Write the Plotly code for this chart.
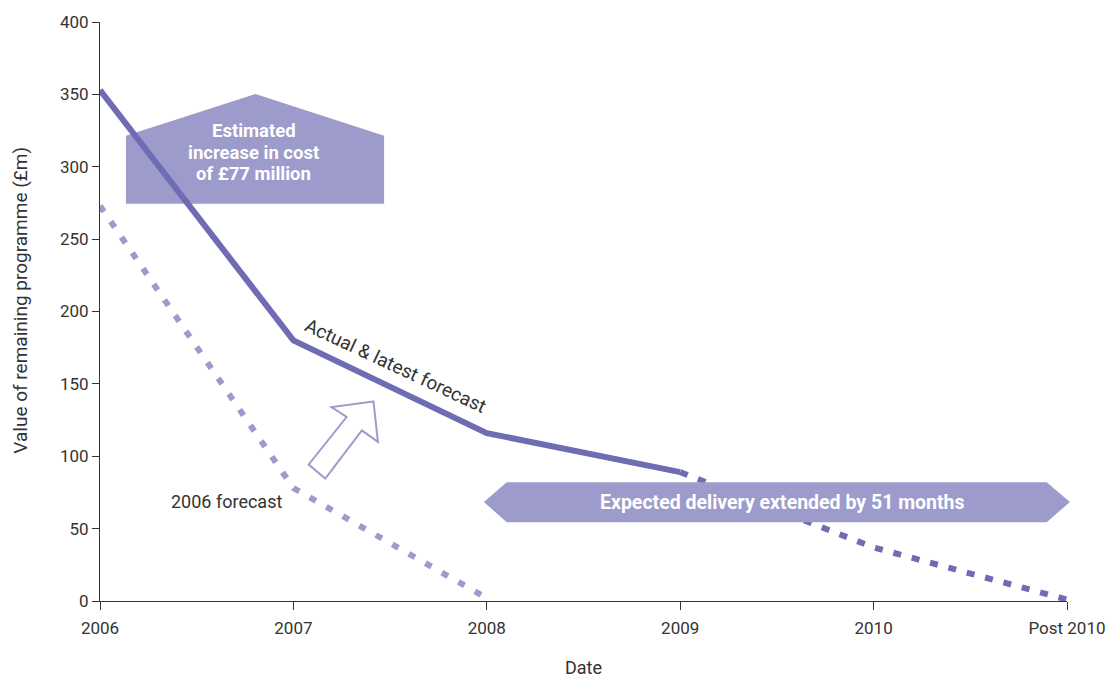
import plotly.graph_objects as go

# Category labels on the date axis
dates = ["2006", "2007", "2008", "2009", "2010", "Post 2010"]
x_idx = list(range(len(dates)))

# Value of remaining programme (£m)
actual = [353, 180, 116, 89]          # 2006-2009 actual
latest_forecast = [89, 37, 1]        # 2009 -> Post 2010 projection
forecast_2006 = [273, 78, 2]         # 2006 forecast, 2006-2008

DARK = "#6f6cb3"
LIGHT = "#9c9bcc"
TEXT = "#333333"
FONT = "Roboto"

fig = go.Figure()

fig.add_trace(go.Scatter(
    x=x_idx[:3], y=forecast_2006, mode="lines",
    line=dict(color=LIGHT, width=6, dash="7px,12px"),
    hoverinfo="skip", showlegend=False,
))
fig.add_trace(go.Scatter(
    x=x_idx[3:], y=latest_forecast, mode="lines",
    line=dict(color=DARK, width=6, dash="8px,11px"),
    hoverinfo="skip", showlegend=False,
))
fig.add_trace(go.Scatter(
    x=x_idx[:4], y=actual, mode="lines",
    line=dict(color=DARK, width=6),
    hoverinfo="skip", showlegend=False,
))

# "house" callout behind the actual line
fig.add_shape(
    type="path", xref="x", yref="y", layer="below",
    path="M 0.134,274.5 L 0.134,321.4 L 0.804,350.3 L 1.469,321.4 L 1.469,274.5 Z",
    fillcolor=LIGHT, line=dict(width=0),
)
# double-ended banner over the projection
fig.add_shape(
    type="path", xref="paper", yref="paper", layer="above",
    path="M 0.397,0.171 L 0.4206,0.205 L 0.979,0.205 L 1.003,0.171 "
         "L 0.979,0.136 L 0.4206,0.136 Z",
    fillcolor=LIGHT, line=dict(width=0),
)
# hollow arrow showing the upward shift
fig.add_shape(
    type="path", xref="x", yref="y", layer="above",
    path="M 1.414,137.9 L 1.197,134.0 L 1.275,127.1 L 1.079,94.3 "
         "L 1.165,84.6 L 1.354,117.9 L 1.437,109.9 Z",
    fillcolor="rgba(255,255,255,1)", line=dict(color=LIGHT, width=2),
)

# callout text, one annotation per line
for line_text, y_val in [("Estimated", 324.8),
                         ("increase in cost", 309.7),
                         ("of £77 million", 295.2)]:
    fig.add_annotation(
        x=0.794, y=y_val, xref="x", yref="y", showarrow=False,
        text=f"<b>{line_text}</b>", xanchor="center", yanchor="middle",
        font=dict(family=FONT, size=18.5, color="white"),
    )
fig.add_annotation(
    x=0.706, y=67.8, xref="paper", yref="y", showarrow=False,
    xanchor="center", yanchor="middle",
    text="<b>Expected delivery extended by 51 months</b>",
    font=dict(family=FONT, size=19.5, color="white"),
)
fig.add_annotation(
    x=1.526, y=162.8, xref="x", yref="y", showarrow=False,
    text="Actual & latest forecast", textangle=25,
    font=dict(family=FONT, size=19, color=TEXT),
)
fig.add_annotation(
    x=0.653, y=69, xref="x", yref="y", showarrow=False,
    text="2006 forecast",
    font=dict(family=FONT, size=18, color=TEXT),
)
# axis titles
fig.add_annotation(
    x=-0.0825, y=0.519, xref="paper", yref="paper", showarrow=False,
    text="Value of remaining programme (£m)", textangle=-90,
    xanchor="center", yanchor="middle",
    font=dict(family=FONT, size=19, color=TEXT),
)
fig.add_annotation(
    x=0.5, y=-0.114, xref="paper", yref="paper", showarrow=False,
    text="Date", xanchor="center", yanchor="middle",
    font=dict(family=FONT, size=18, color=TEXT),
)

fig.update_xaxes(
    range=[0, 5], tickvals=x_idx, ticktext=dates,
    showline=True, linecolor=TEXT, linewidth=1,
    ticks="outside", ticklen=8, tickcolor=TEXT,
    ticklabelstandoff=4,
    showgrid=False, zeroline=False,
    tickfont=dict(family=FONT, size=17, color=TEXT),
)
fig.update_yaxes(
    range=[0, 400], tickvals=list(range(0, 401, 50)),
    showline=True, linecolor=TEXT, linewidth=1,
    ticks="outside", ticklen=7, tickcolor=TEXT,
    showgrid=False, zeroline=False,
    tickfont=dict(family=FONT, size=17, color=TEXT),
)

fig.update_layout(
    width=1118, height=678,
    margin=dict(l=100, r=48, t=21, b=77),
    paper_bgcolor="white", plot_bgcolor="white",
    showlegend=False,
)

fig.write_html("out.html")
